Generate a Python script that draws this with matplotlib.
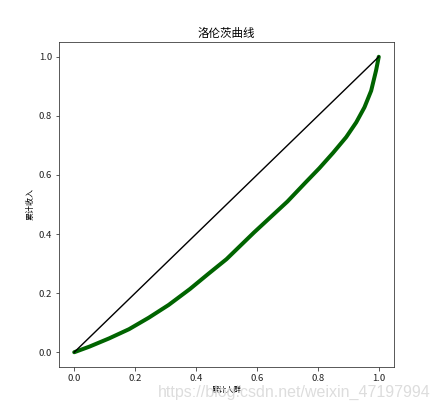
import matplotlib
matplotlib.use('Agg')
import matplotlib.pyplot as plt

plt.rcParams['font.family'] = ['Noto Sans CJK SC', 'DejaVu Sans']
plt.rcParams['axes.unicode_minus'] = False

# cumulative population share / cumulative income share
cum_people = [0.0, 0.05, 0.115, 0.18, 0.245, 0.31, 0.38, 0.44, 0.5, 0.59, 0.7, 0.76,
              0.805, 0.85, 0.893, 0.926, 0.953, 0.975, 0.991, 1.0]
cum_income = [0.0, 0.019, 0.047, 0.078, 0.117, 0.16, 0.214, 0.265, 0.315, 0.405, 0.51, 0.575,
              0.623, 0.675, 0.728, 0.778, 0.829, 0.885, 0.953, 1.0]

# line of equality
equal_x = [0.0, 1.0]
equal_y = [0.0, 1.0]

fig = plt.figure(figsize=(441 / 72, 411 / 72), dpi=72)
ax = fig.add_axes([59 / 441, 1 - 367 / 411, 335 / 441, 325 / 411])

ax.plot(cum_people, cum_income, color='darkgreen', linewidth=4,
        solid_capstyle='round', solid_joinstyle='round')
ax.plot(equal_x, equal_y, color='black', linewidth=1.4)

ax.set_title('洛伦茨曲线', fontsize=11.5, pad=5)
ax.set_xlabel('累计人群', fontsize=7.5, labelpad=3)
ax.set_ylabel('累计收入', fontsize=8, labelpad=4)
ax.set_xticks([0.0, 0.2, 0.4, 0.6, 0.8, 1.0])
ax.set_yticks([0.0, 0.2, 0.4, 0.6, 0.8, 1.0])
ax.tick_params(labelsize=9.5, colors='#333333', labelcolor='#222222')
for s in ax.spines.values():
    s.set_color('#333333')

# watermark of the source page
fig.text(431 / 441, 1 - 392 / 411, 'https://blog.csdn.net/weixin_47197994', ha='right', va='center',
         fontsize=16, color='#dddddd', family='Liberation Sans')

fig.savefig('out.png', dpi=72)
